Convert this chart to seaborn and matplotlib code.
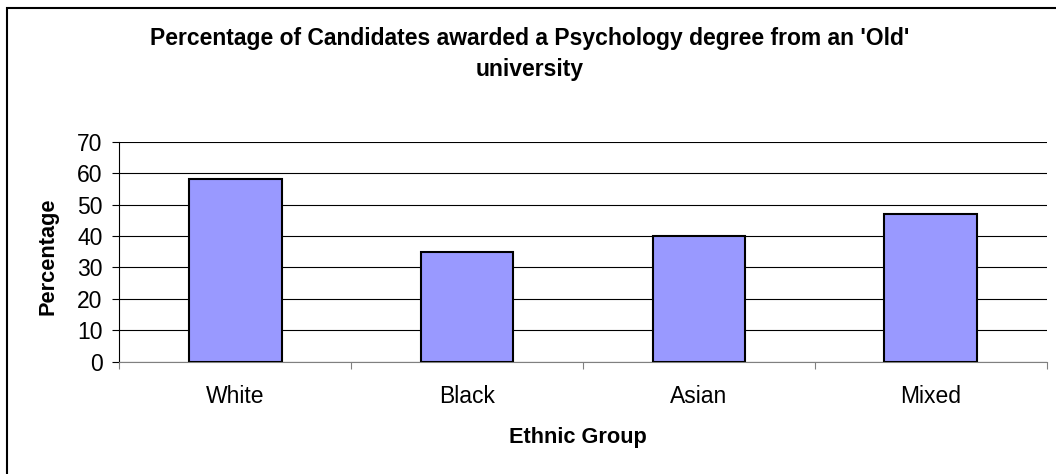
import matplotlib
matplotlib.use("Agg")
import matplotlib.pyplot as plt
import seaborn as sns
import pandas as pd
from matplotlib.ticker import MultipleLocator
from matplotlib.patches import Rectangle

groups = ["White", "Black", "Asian", "Mixed"]
percentages = [58, 35, 40, 47]
title_text = "Percentage of Candidates awarded a Psychology degree from an 'Old'\nuniversity"
x_label = "Ethnic Group"
y_label = "Percentage"

sns.set_style("white")
plt.rcParams["font.family"] = ["Liberation Sans", "DejaVu Sans"]
plt.rcParams["text.color"] = "black"
plt.rcParams["xtick.labelcolor"] = "black"
plt.rcParams["ytick.labelcolor"] = "black"

W, H = 1056, 474
fig = plt.figure(figsize=(W / 100, H / 100), dpi=100)
ax = fig.add_axes([119.3 / W, 1 - 361.7 / H, (1046.7 - 119.3) / W, (361.7 - 141.7) / H])

df = pd.DataFrame({"group": groups, "pct": percentages})
sns.barplot(data=df, x="group", y="pct", color="#9999FF", saturation=1,
            width=0.4, edgecolor="black", linewidth=1.5, ax=ax, zorder=3)

ax.set_xlim(-0.5, 3.5)
ax.set_ylim(0, 70)
ax.yaxis.set_major_locator(MultipleLocator(10))
ax.grid(axis="y", color="black", lw=0.8, zorder=0)
ax.grid(axis="x", visible=False)
ax.set_axisbelow(True)

for s in ["top", "right"]:
    ax.spines[s].set_visible(False)
ax.spines["left"].set_color("black")
ax.spines["left"].set_linewidth(0.8)
ax.spines["bottom"].set_color("#808080")
ax.spines["bottom"].set_linewidth(0.8)

ax.tick_params(axis="y", direction="out", length=5, width=0.8, color="black",
               labelsize=16.5, labelcolor="black", pad=7, left=True)
ax.tick_params(axis="x", which="major", length=0, labelsize=16.5,
               labelcolor="black", pad=17)
ax.set_xticks([-0.5, 0.5, 1.5, 2.5, 3.5], minor=True)
ax.tick_params(axis="x", which="minor", direction="out", length=5, width=0.8,
               color="#808080", bottom=True)
ax.set_xlabel("")
ax.set_ylabel("")

fig.text(530 / W, 1 - 54 / H, title_text, ha="center", va="center",
         fontsize=16.5, fontweight="bold", linespacing=1.45, color="black")
fig.text(48 / W, 1 - 256 / H, y_label, rotation=90, ha="center", va="center",
         fontsize=15.7, fontweight="bold", color="black")
fig.text(578 / W, 1 - 437 / H, x_label, ha="center", va="center",
         fontsize=15.7, fontweight="bold", color="black")

fig.patches.append(Rectangle((7 / W, -0.1), 1.2, 1 - 8 / H + 0.1,
                             transform=fig.transFigure, fill=False,
                             lw=1.5, ec="black"))

fig.savefig("out.png", dpi=100)
